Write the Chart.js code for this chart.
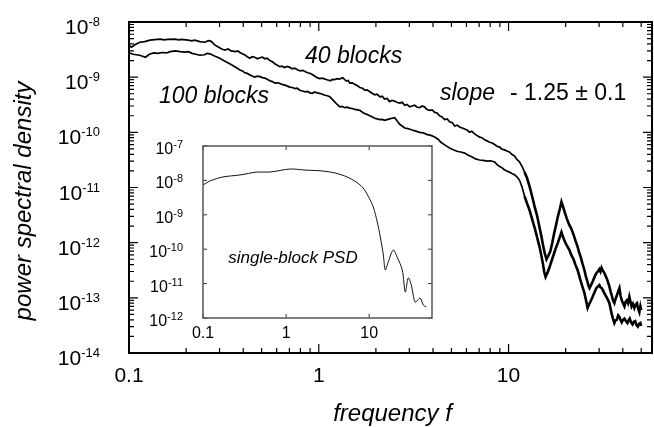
<!DOCTYPE html>
<html>
<head>
<meta charset="utf-8">
<script src="https://cdn.jsdelivr.net/npm/chart.js@4.4.0/dist/chart.umd.min.js"></script>
<style>
  body { margin: 0; background: #fff; }
  #wrap { position: relative; width: 654px; height: 427px; }
  #mainChart { position: absolute; left: 0; top: 0; }
  #insetChart { position: absolute; left: 150px; top: 136px; }
</style>
</head>
<body>
<div id="wrap">
  <canvas id="mainChart" width="654" height="427"></canvas>
  <canvas id="insetChart" width="290" height="210"></canvas>
</div>
<script>
// [frequency, PSD]
// upper curve (40 blocks)
const curve40 = [
  [0.100, 3.8e-9], [0.103, 3.5e-9], [0.108, 3.9e-9], [0.114, 4.3e-9], [0.121, 4.4e-9], [0.129, 4.7e-9], [0.137, 4.8e-9], [0.146, 4.9e-9],
  [0.153, 4.75e-9], [0.160, 4.85e-9], [0.175, 4.9e-9], [0.182, 4.75e-9], [0.190, 4.85e-9], [0.205, 4.7e-9], [0.214, 4.55e-9], [0.222, 4.7e-9],
  [0.236, 4.4e-9], [0.251, 4.3e-9], [0.262, 4.6e-9], [0.270, 4.5e-9], [0.284, 3.8e-9], [0.300, 3.4e-9], [0.310, 3.2e-9], [0.320, 3.1e-9],
  [0.333, 3.25e-9], [0.345, 3.0e-9], [0.365, 2.9e-9], [0.375, 3.0e-9], [0.384, 2.8e-9], [0.410, 2.5e-9], [0.420, 2.35e-9], [0.433, 2.2e-9],
  [0.446, 2.35e-9], [0.460, 2.3e-9], [0.475, 2.15e-9], [0.489, 2.25e-9], [0.505, 2.3e-9], [0.520, 2.15e-9], [0.535, 2.2e-9], [0.552, 2.0e-9],
  [0.57, 1.9e-9], [0.587, 1.75e-9], [0.605, 1.65e-9], [0.623, 1.55e-9], [0.64, 1.58e-9], [0.66, 1.5e-9], [0.68, 1.56e-9], [0.70, 1.52e-9],
  [0.725, 1.42e-9], [0.748, 1.45e-9], [0.775, 1.35e-9], [0.80, 1.3e-9], [0.825, 1.33e-9], [0.85, 1.25e-9], [0.875, 1.2e-9], [0.897, 1.18e-9],
  [0.925, 1.12e-9], [0.95, 1.05e-9], [0.98, 9.8e-10], [1.01, 9.4e-10], [1.045, 9.6e-10], [1.08, 9.2e-10], [1.115, 8.9e-10], [1.15, 8.6e-10],
  [1.18, 9.1e-10], [1.21, 9.0e-10], [1.245, 9.4e-10], [1.28, 9.2e-10], [1.31, 9.5e-10], [1.337, 9.8e-10], [1.37, 9.0e-10], [1.40, 8.5e-10],
  [1.43, 8.7e-10], [1.456, 7.8e-10], [1.50, 7.9e-10], [1.55, 7.4e-10], [1.60, 7.0e-10], [1.644, 6.5e-10], [1.70, 6.3e-10], [1.75, 5.8e-10],
  [1.80, 5.9e-10], [1.85, 5.5e-10], [1.91, 5.1e-10], [1.972, 4.8e-10], [2.03, 4.9e-10], [2.10, 4.4e-10], [2.16, 4.5e-10], [2.22, 4.0e-10],
  [2.29, 4.1e-10], [2.36, 3.6e-10], [2.43, 3.8e-10], [2.50, 3.7e-10], [2.58, 3.5e-10], [2.67, 3.4e-10], [2.75, 3.5e-10], [2.84, 3.1e-10],
  [2.92, 3.2e-10], [3.01, 2.9e-10], [3.10, 3.0e-10], [3.20, 3.1e-10], [3.30, 2.85e-10], [3.40, 2.8e-10], [3.50, 3.0e-10], [3.60, 2.9e-10],
  [3.72, 2.6e-10], [3.84, 2.5e-10], [3.96, 2.55e-10], [4.08, 2.3e-10], [4.2, 2.25e-10], [4.33, 2.0e-10], [4.46, 1.9e-10], [4.60, 1.7e-10],
  [4.75, 1.75e-10], [4.89, 1.55e-10], [5.05, 1.5e-10], [5.20, 1.3e-10], [5.36, 1.35e-10], [5.52, 1.25e-10], [5.7, 1.2e-10], [5.87, 1.15e-10],
  [6.05, 1.1e-10], [6.23, 1.0e-10], [6.4, 1.05e-10], [6.60, 9.5e-11], [6.8, 8.8e-11], [7.03, 8.2e-11], [7.25, 8.0e-11], [7.48, 7.3e-11],
  [7.7, 7.0e-11], [7.94, 6.6e-11], [8.2, 6.4e-11], [8.44, 6.0e-11], [8.7, 5.6e-11], [8.97, 5.4e-11], [9.2, 5.0e-11], [9.5, 4.8e-11],
  [9.8, 4.6e-11], [10.1, 4.4e-11], [10.4, 4.0e-11], [10.76, 3.7e-11], [11.1, 3.2e-11], [11.43, 2.9e-11], [11.8, 2.4e-11], [12.14, 1.9e-11],
  [12.5, 1.5e-11], [12.9, 1.05e-11], [13.3, 7e-12], [13.7, 4.6e-12], [14.1, 3.2e-12], [14.56, 1.9e-12], [14.9, 1.3e-12], [15.2, 9e-13],
  [15.5, 6.5e-13], [15.85, 5e-13], [16.2, 5.8e-13], [16.6, 7e-13], [17.0, 1.0e-12], [17.4, 1.5e-12], [17.8, 2.1e-12], [18.2, 3e-12],
  [18.6, 4e-12], [19.0, 5.5e-12], [19.4, 4.4e-12], [19.8, 3.5e-12], [20.3, 2.7e-12], [20.9, 2.1e-12], [21.4, 1.8e-12], [22.0, 1.4e-12],
  [22.5, 1.1e-12], [23.1, 8.5e-13], [23.5, 6.8e-13], [24.0, 5.5e-13], [24.5, 4.2e-13], [25.1, 3.2e-13], [25.5, 2.5e-13], [26.0, 2.0e-13],
  [26.3, 1.7e-13], [26.7, 1.5e-13], [27.2, 1.7e-13], [27.8, 2.0e-13], [28.4, 2.4e-13], [29.0, 2.8e-13], [29.6, 3.0e-13], [30.1, 3.3e-13],
  [30.5, 3.0e-13], [30.9, 3.5e-13], [31.4, 3.1e-13], [32.0, 2.8e-13], [33.0, 2.2e-13], [34.0, 1.6e-13], [34.5, 1.3e-13], [35.0, 1.1e-13],
  [35.5, 9e-14], [36.1, 8e-14], [36.6, 9.5e-14], [37.2, 1.1e-13], [37.8, 1.3e-13], [38.4, 1.5e-13], [38.9, 1.1e-13], [39.5, 9e-14],
  [40.1, 8e-14], [40.8, 7e-14], [41.4, 8.5e-14], [42.0, 9e-14], [42.6, 8e-14], [43.3, 1.05e-13], [43.9, 8.5e-14], [44.5, 7e-14],
  [45.2, 7.8e-14], [46.0, 6.5e-14], [46.7, 7.5e-14], [47.5, 8e-14], [48.2, 6.3e-14], [48.9, 5.5e-14], [49.5, 7e-14], [50.0, 6e-14]
];

// lower curve (100 blocks)
const curve100 = [
  [0.100, 2.75e-9], [0.105, 2.6e-9], [0.114, 2.5e-9], [0.122, 2.3e-9], [0.128, 2.6e-9], [0.135, 2.75e-9], [0.142, 2.7e-9], [0.150, 2.8e-9],
  [0.158, 2.75e-9], [0.165, 2.9e-9], [0.175, 3.0e-9], [0.186, 2.9e-9], [0.197, 2.85e-9], [0.206, 2.9e-9], [0.215, 2.7e-9], [0.225, 2.6e-9],
  [0.236, 2.5e-9], [0.250, 2.55e-9], [0.258, 2.7e-9], [0.267, 2.65e-9], [0.284, 2.4e-9], [0.301, 2.2e-9], [0.315, 2.0e-9], [0.330, 1.85e-9],
  [0.345, 1.7e-9], [0.361, 1.55e-9], [0.372, 1.45e-9], [0.384, 1.35e-9], [0.396, 1.3e-9], [0.408, 1.2e-9], [0.42, 1.17e-9], [0.433, 1.1e-9],
  [0.446, 1.05e-9], [0.46, 1.0e-9], [0.475, 1.04e-9], [0.49, 1.02e-9], [0.505, 9.8e-10], [0.52, 9.6e-10], [0.535, 9.2e-10], [0.552, 8.6e-10],
  [0.57, 8.3e-10], [0.587, 7.8e-10], [0.61, 7.9e-10], [0.64, 7.4e-10], [0.67, 7.1e-10], [0.703, 6.6e-10], [0.725, 6.5e-10], [0.75, 6.2e-10],
  [0.77, 6.3e-10], [0.794, 5.8e-10], [0.82, 5.6e-10], [0.85, 5.4e-10], [0.875, 5.5e-10], [0.897, 5.2e-10], [0.925, 5.1e-10], [0.95, 5.4e-10],
  [0.98, 5.2e-10], [1.01, 5.1e-10], [1.045, 4.9e-10], [1.076, 4.7e-10], [1.11, 4.6e-10], [1.143, 4.4e-10], [1.175, 4.0e-10], [1.21, 3.6e-10],
  [1.25, 3.2e-10], [1.29, 2.9e-10], [1.33, 2.95e-10], [1.37, 2.8e-10], [1.41, 2.85e-10], [1.456, 2.75e-10], [1.50, 2.7e-10], [1.55, 2.6e-10],
  [1.60, 2.55e-10], [1.644, 2.5e-10], [1.72, 2.25e-10], [1.80, 2.1e-10], [1.88, 1.95e-10], [1.972, 1.8e-10], [2.03, 1.75e-10], [2.10, 1.7e-10],
  [2.16, 1.72e-10], [2.225, 1.65e-10], [2.29, 1.7e-10], [2.36, 1.75e-10], [2.43, 1.8e-10], [2.512, 1.85e-10], [2.59, 1.6e-10], [2.668, 1.4e-10],
  [2.75, 1.3e-10], [2.835, 1.2e-10], [2.95, 1.17e-10], [3.1, 1.1e-10], [3.25, 1.05e-10], [3.40, 1.0e-10], [3.55, 9.8e-11], [3.7, 9.2e-11],
  [3.9, 8.8e-11], [4.08, 8.2e-11], [4.25, 7.5e-11], [4.4, 6.6e-11], [4.65, 5.8e-11], [4.89, 5.2e-11], [5.15, 4.8e-11], [5.4, 4.5e-11],
  [5.6, 4.4e-11], [5.87, 4.2e-11], [6.1, 3.9e-11], [6.4, 3.6e-11], [6.7, 3.3e-11], [7.03, 3.15e-11], [7.35, 3.1e-11], [7.7, 3.0e-11],
  [8.05, 3.05e-11], [8.44, 2.9e-11], [8.7, 2.6e-11], [8.97, 2.4e-11], [9.2, 2.3e-11], [9.5, 2.1e-11], [9.8, 2.0e-11], [10.1, 1.9e-11],
  [10.4, 1.8e-11], [10.76, 1.7e-11], [11.1, 1.55e-11], [11.43, 1.35e-11], [11.8, 1.0e-11], [12.14, 7e-12], [12.5, 5.2e-12], [12.9, 3.9e-12],
  [13.3, 2.7e-12], [13.7, 1.9e-12], [14.1, 1.3e-12], [14.56, 8.4e-13], [14.9, 5.8e-13], [15.2, 4e-13], [15.4, 3e-13], [15.67, 2.4e-13],
  [16.0, 2.8e-13], [16.4, 3.5e-13], [16.9, 4.8e-13], [17.4, 6.5e-13], [17.8, 8.2e-13], [18.2, 1.0e-12], [18.6, 1.25e-12], [19.0, 1.55e-12],
  [19.4, 1.25e-12], [19.8, 1.05e-12], [20.3, 8.8e-13], [20.9, 7.4e-13], [21.4, 6e-13], [22.0, 5e-13], [22.5, 4e-13], [23.1, 3.2e-13],
  [23.5, 2.6e-13], [24.0, 2.0e-13], [24.5, 1.6e-13], [25.1, 1.23e-13], [25.6, 9e-14], [26.1, 6.6e-14], [26.5, 7.5e-14], [27.0, 8.5e-14],
  [27.6, 1.0e-13], [28.2, 1.2e-13], [28.6, 1.35e-13], [29.0, 1.5e-13], [29.5, 1.6e-13], [30.1, 1.7e-13], [30.5, 1.55e-13], [31.0, 1.5e-13],
  [31.5, 1.35e-13], [32.0, 1.2e-13], [33.0, 1.0e-13], [34.0, 8e-14], [34.5, 6.3e-14], [35.0, 5e-14], [35.5, 4.2e-14], [36.1, 3.5e-14],
  [36.6, 3.9e-14], [37.2, 4e-14], [37.8, 4.8e-14], [38.4, 4.5e-14], [38.9, 4.0e-14], [39.5, 3.6e-14], [40.1, 4.0e-14], [40.8, 4.2e-14],
  [41.5, 3.8e-14], [42.3, 3.5e-14], [42.9, 3.9e-14], [43.5, 4.2e-14], [44.2, 3.6e-14], [45.0, 3.3e-14], [45.7, 3.7e-14], [46.5, 3.8e-14],
  [47.2, 3.2e-14], [48.0, 3.0e-14], [48.8, 3.4e-14], [49.5, 3.5e-14], [50.0, 3.1e-14]
];

// inset: single-block PSD
const curveSingle = [
  [0.1, 7.3e-9], [0.121, 9.6e-9], [0.174, 1.26e-8], [0.279, 1.44e-8], [0.447, 1.75e-8], [0.641, 1.75e-8], [1.117, 2.14e-8], [1.69, 2.0e-8],
  [2.79, 1.87e-8], [3.89, 1.64e-8], [5.43, 1.26e-8], [6.97, 9.0e-9], [8.47, 6.0e-9], [9.72, 3.5e-9], [11.2, 1.69e-9], [12.5, 6.2e-10],
  [13.6, 2.27e-10], [14.8, 6.8e-11], [15.6, 2.5e-11], [16.9, 4.2e-11], [19.5, 9.5e-11], [21.7, 5.9e-11], [25.0, 2.5e-11], [27.2, 5.7e-12],
  [29.5, 1.46e-11], [32.1, 9.1e-12], [35.8, 2.9e-12], [41.1, 3.8e-12], [44.7, 2.4e-12], [48.6, 2.1e-12]
];

const xTicks = [0.1, 1, 10];
const xTickLabels = ['0.1', '1', '10'];
const yExps = [-14, -13, -12, -11, -10, -9, -8];
const insetYExps = [-12, -11, -10, -9, -8, -7];
const minorSteps = [2, 3, 4, 5, 6, 7, 8, 9];

const FONT = '"Liberation Sans", Arial, Helvetica, sans-serif';

function pts(rows) {
  return rows.map(r => ({ x: r[0], y: r[1] }));
}

function drawPow(ctx, exp, right, base, big, small, rise) {
  ctx.textAlign = 'left';
  ctx.textBaseline = 'alphabetic';
  ctx.font = small + 'px ' + FONT;
  const ew = ctx.measureText(String(exp)).width;
  ctx.font = big + 'px ' + FONT;
  const bw = ctx.measureText('10').width;
  ctx.fillText('10', right - ew - bw, base);
  ctx.font = small + 'px ' + FONT;
  ctx.fillText(String(exp), right - ew, base - rise);
}

const mainDecor = {
  id: 'mainDecor',
  afterDraw(chart) {
    const { ctx, chartArea: a, scales } = chart;
    const sx = scales.x, sy = scales.y;
    ctx.save();
    ctx.strokeStyle = '#000';
    ctx.fillStyle = '#000';

    // inward ticks on all four sides
    ctx.lineWidth = 1.2;
    ctx.beginPath();
    yExps.forEach(e => {
      const py = sy.getPixelForValue(Math.pow(10, e));
      ctx.moveTo(a.left, py); ctx.lineTo(a.left + 9, py);
      ctx.moveTo(a.right, py); ctx.lineTo(a.right - 9, py);
      if (e < -8) {
        minorSteps.forEach(m => {
          const p = sy.getPixelForValue(m * Math.pow(10, e));
          ctx.moveTo(a.left, p); ctx.lineTo(a.left + 5, p);
          ctx.moveTo(a.right, p); ctx.lineTo(a.right - 5, p);
        });
      }
    });
    xTicks.forEach(v => {
      const px = sx.getPixelForValue(v);
      ctx.moveTo(px, a.bottom); ctx.lineTo(px, a.bottom - 9);
      ctx.moveTo(px, a.top); ctx.lineTo(px, a.top + 9);
      minorSteps.forEach(m => {
        const val = m * v;
        if (val > sx.max) return;
        const p = sx.getPixelForValue(val);
        ctx.moveTo(p, a.bottom); ctx.lineTo(p, a.bottom - 5);
        ctx.moveTo(p, a.top); ctx.lineTo(p, a.top + 5);
      });
    });
    ctx.stroke();

    ctx.lineWidth = 2;
    ctx.strokeRect(a.left, a.top, a.right - a.left, a.bottom - a.top);

    // tick labels
    yExps.forEach(e => {
      const py = sy.getPixelForValue(Math.pow(10, e));
      drawPow(ctx, e, 100, py + 12, 21, 13, 8);
    });
    ctx.font = '21px ' + FONT;
    ctx.textAlign = 'center';
    ctx.textBaseline = 'alphabetic';
    xTicks.forEach((v, i) => {
      ctx.fillText(xTickLabels[i], sx.getPixelForValue(v), 382);
    });

    // axis titles
    ctx.font = 'italic 24px ' + FONT;
    ctx.fillText('frequency f', (a.left + a.right) / 2 + 2, 421);
    ctx.save();
    ctx.translate(31, 201);
    ctx.rotate(-Math.PI / 2);
    ctx.fillText('power spectral density', 0, 0);
    ctx.restore();

    // annotations
    ctx.textAlign = 'left';
    ctx.font = 'italic 23px ' + FONT;
    ctx.fillText('40 blocks', 305, 63);
    ctx.fillText('100 blocks', 159, 103);
    ctx.fillText('slope', 440, 100);
    ctx.font = '23px ' + FONT;
    ctx.fillText('- 1.25 \u00b1 0.1', 510, 100);
    ctx.restore();
  }
};

const insetDecor = {
  id: 'insetDecor',
  afterDraw(chart) {
    const { ctx, chartArea: a, scales } = chart;
    const sx = scales.x, sy = scales.y;
    ctx.save();
    ctx.strokeStyle = '#333';
    ctx.fillStyle = '#000';
    ctx.lineWidth = 1;
    ctx.beginPath();
    insetYExps.forEach(e => {
      const py = sy.getPixelForValue(Math.pow(10, e));
      ctx.moveTo(a.left, py); ctx.lineTo(a.left + 4, py);
      ctx.moveTo(a.right, py); ctx.lineTo(a.right - 4, py);
    });
    xTicks.forEach(v => {
      const px = sx.getPixelForValue(v);
      ctx.moveTo(px, a.bottom); ctx.lineTo(px, a.bottom - 4);
      ctx.moveTo(px, a.top); ctx.lineTo(px, a.top + 4);
    });
    ctx.stroke();
    ctx.strokeStyle = '#555';
    ctx.lineWidth = 1.5;
    ctx.strokeRect(a.left, a.top, a.right - a.left, a.bottom - a.top);

    insetYExps.forEach(e => {
      const py = sy.getPixelForValue(Math.pow(10, e));
      drawPow(ctx, e, a.left - 20, py + 8, 16, 11, 6);
    });
    ctx.font = '16px ' + FONT;
    ctx.textAlign = 'center';
    xTicks.forEach((v, i) => {
      ctx.fillText(xTickLabels[i], sx.getPixelForValue(v), a.bottom + 20);
    });
    ctx.font = 'italic 17px ' + FONT;
    ctx.fillText('single-block PSD', 143, 127);
    ctx.restore();
  }
};

const thickTail = c => (c.p0.parsed.x > 12 ? 2.6 : 1.7);

new Chart(document.getElementById('mainChart'), {
  type: 'line',
  data: {
    datasets: [
      { data: pts(curve40), borderColor: '#000', borderWidth: 1.7, pointRadius: 0, fill: false, segment: { borderWidth: thickTail } },
      { data: pts(curve100), borderColor: '#000', borderWidth: 1.7, pointRadius: 0, fill: false, segment: { borderWidth: thickTail } }
    ]
  },
  options: {
    responsive: false,
    animation: false,
    layout: { padding: { left: 129, top: 22, right: 2, bottom: 74 } },
    plugins: { legend: { display: false }, tooltip: { enabled: false } },
    scales: {
      x: { type: 'logarithmic', min: 0.1, max: 57, display: false },
      y: { type: 'logarithmic', min: 1e-14, max: 1e-8, display: false }
    }
  },
  plugins: [mainDecor]
});

new Chart(document.getElementById('insetChart'), {
  type: 'line',
  data: {
    datasets: [
      { data: pts(curveSingle), borderColor: '#111', borderWidth: 1, pointRadius: 0, fill: false, tension: 0.3 }
    ]
  },
  options: {
    responsive: false,
    animation: false,
    layout: { padding: { left: 53, top: 10, right: 8, bottom: 28 } },
    plugins: { legend: { display: false }, tooltip: { enabled: false } },
    scales: {
      x: { type: 'logarithmic', min: 0.1, max: 57, display: false },
      y: { type: 'logarithmic', min: 1e-12, max: 1e-7, display: false }
    }
  },
  plugins: [insetDecor]
});
</script>
</body>
</html>
